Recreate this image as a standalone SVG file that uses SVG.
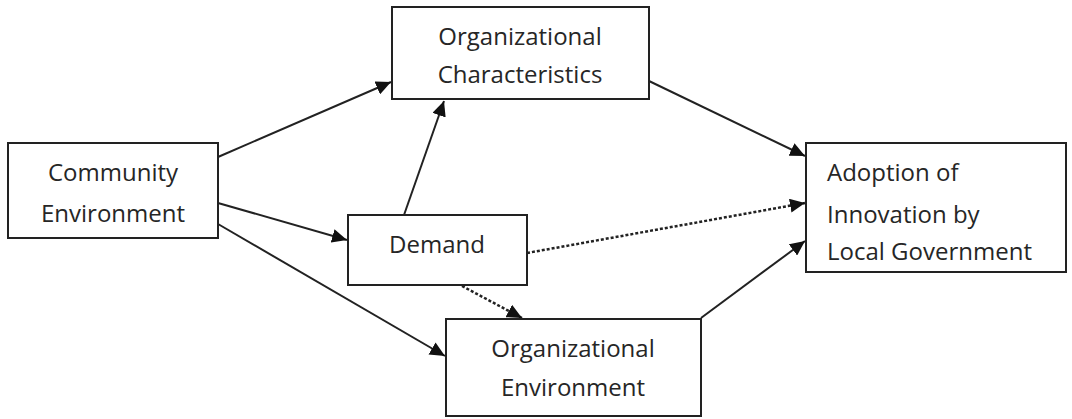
<svg xmlns="http://www.w3.org/2000/svg" width="1072" height="419" viewBox="0 0 1072 419">
<style>
.box{fill:#fff;stroke:#222;stroke-width:2}
.t{font-family:"Open Sans","Liberation Sans",sans-serif;font-size:24px;fill:#262626}
.c{text-anchor:middle}
.ln{stroke:#222;stroke-width:2;fill:none}
.dot{stroke-dasharray:3,2;stroke-width:2.5}
</style>
<defs>
<marker id="ah" markerUnits="userSpaceOnUse" markerWidth="16" markerHeight="14" refX="15" refY="7" orient="auto">
<path d="M0,0 L15,7 L0,14 Z" fill="#111"/>
</marker>
</defs>
<rect width="1072" height="419" fill="#fff"/>
<g id="connectors">
<line class="ln" x1="218" y1="157" x2="391" y2="82" marker-end="url(#ah)"/>
<line class="ln" x1="218" y1="203" x2="347" y2="240" marker-end="url(#ah)"/>
<line class="ln" x1="218" y1="224" x2="445" y2="356" marker-end="url(#ah)"/>
<line class="ln" x1="404" y1="215" x2="444" y2="101" marker-end="url(#ah)"/>
<line class="ln" x1="649" y1="81" x2="805" y2="156" marker-end="url(#ah)"/>
<line class="ln dot" x1="527" y1="253" x2="805" y2="203" marker-end="url(#ah)"/>
<line class="ln dot" x1="462" y1="286" x2="522" y2="318" marker-end="url(#ah)"/>
<line class="ln" x1="701" y1="318" x2="805" y2="241" marker-end="url(#ah)"/>
</g>
<g id="community">
<rect class="box" x="8" y="143" width="210" height="95"/>
<text class="t c" x="113" y="181">Community</text>
<text class="t c" x="113" y="222">Environment</text>
</g>
<g id="orgchar">
<rect class="box" x="392" y="7" width="257" height="92"/>
<text class="t c" x="520" y="45">Organizational</text>
<text class="t c" x="520" y="83">Characteristics</text>
</g>
<g id="demand">
<rect class="box" x="348" y="215" width="179" height="70"/>
<text class="t c" x="437" y="253">Demand</text>
</g>
<g id="orgenv">
<rect class="box" x="446" y="319" width="255" height="97"/>
<text class="t c" x="573" y="357">Organizational</text>
<text class="t c" x="573" y="396">Environment</text>
</g>
<g id="adoption">
<rect class="box" x="806" y="143" width="260" height="129"/>
<text class="t" x="827" y="181">Adoption of</text>
<text class="t" x="827" y="223">Innovation by</text>
<text class="t" x="827" y="260">Local Government</text>
</g>
</svg>
